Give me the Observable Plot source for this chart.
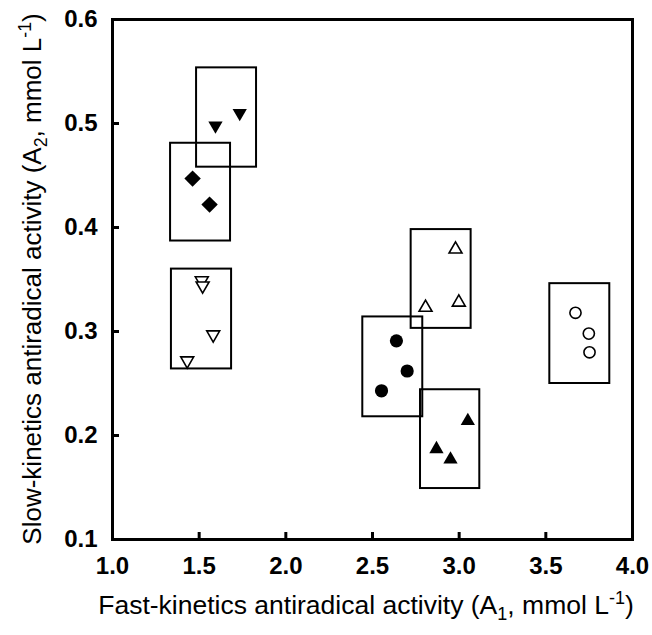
<!DOCTYPE html>
<html><head><meta charset="utf-8">
<script src="https://cdn.jsdelivr.net/npm/d3@7"></script>
<script src="https://cdn.jsdelivr.net/npm/@observablehq/plot@0.6"></script>
<style>
body{margin:0;background:#fff}
svg{font-family:"Liberation Sans",Arial,sans-serif}
</style>
</head><body><div id="chart"></div>
<script>
// ---- data ----
const xTicks = [1.0, 1.5, 2.0, 2.5, 3.0, 3.5, 4.0];
const yTicks = [0.1, 0.2, 0.3, 0.4, 0.5, 0.6];
const groups = ["filledDown", "filledDiamond", "openDown", "openUp", "filledCircle", "filledUp", "openCircle"];
const pointX = [
  [1.594, 1.734],
  [1.462, 1.560],
  [1.515, 1.520, 1.581, 1.431],
  [2.806, 2.979, 2.998],
  [2.552, 2.638, 2.700],
  [2.869, 2.950, 3.050],
  [3.671, 3.748, 3.752]
];
const pointY = [
  [0.498, 0.510],
  [0.447, 0.422],
  [0.349, 0.344, 0.297, 0.272],
  [0.323, 0.379, 0.328],
  [0.243, 0.291, 0.262],
  [0.187, 0.177, 0.214],
  [0.318, 0.298, 0.280]
];
const boxX1 = [1.485, 1.335, 1.340, 2.723, 2.444, 2.777, 3.523];
const boxX2 = [1.831, 1.681, 1.687, 3.069, 2.790, 3.119, 3.869];
const boxY1 = [0.458, 0.387, 0.264, 0.303, 0.218, 0.149, 0.250];
const boxY2 = [0.5535, 0.481, 0.360, 0.398, 0.314, 0.244, 0.346];

// ---- styles ----
const triangleDown = {
  draw(context, size) {
    const y = -Math.sqrt(size / (Math.sqrt(3) * 3));
    context.moveTo(0, -y * 2);
    context.lineTo(-Math.sqrt(3) * y, y);
    context.lineTo(Math.sqrt(3) * y, y);
    context.closePath();
  }
};
const styles = {
  filledDown:   {symbol: triangleDown, r: 5.3, fill: "black", stroke: "none"},
  filledDiamond:{symbol: "diamond2",  r: 7.4, fill: "black", stroke: "none"},
  openDown:     {symbol: triangleDown, r: 4.8, fill: "white", stroke: "black", strokeWidth: 1.6},
  openUp:       {symbol: "triangle",  r: 4.8, fill: "white", stroke: "black", strokeWidth: 1.6},
  filledCircle: {symbol: "circle",    r: 6.6, fill: "black", stroke: "none"},
  filledUp:     {symbol: "triangle",  r: 5.3, fill: "black", stroke: "none"},
  openCircle:   {symbol: "circle",    r: 5.6, fill: "white", stroke: "black", strokeWidth: 1.6}
};

const points = groups.flatMap((g, i) => pointX[i].map((x, j) => ({group: g, x, y: pointY[i][j]})));
const boxes = groups.map((g, i) => ({group: g, x1: boxX1[i], x2: boxX2[i], y1: boxY1[i], y2: boxY2[i]}));

const fmt = d3.format(".1f");
const chart = Plot.plot({
  width: 652,
  height: 635,
  marginLeft: 112,
  marginRight: 20,
  marginTop: 19,
  marginBottom: 96,
  style: {fontFamily: '"Liberation Sans", Arial, sans-serif', background: "white", color: "black"},
  x: {domain: [1, 4]},
  y: {domain: [0.1, 0.6]},
  marks: [
    Plot.rect(boxes, {x1: "x1", x2: "x2", y1: "y1", y2: "y2", fill: "none", stroke: "black", strokeWidth: 2}),
    ...groups.map(g => Plot.dot(points.filter(d => d.group === g), {x: "x", y: "y", ...styles[g]})),
    Plot.axisX({ticks: xTicks, tickFormat: fmt, tickSize: -7, tickPadding: 24, strokeWidth: 3, fontSize: 24, fontWeight: "bold", label: null}),
    Plot.axisY({ticks: yTicks, tickFormat: fmt, tickSize: -7, tickPadding: 22, strokeWidth: 3, fontSize: 24, fontWeight: "bold", label: null}),
    Plot.frame({stroke: "black", strokeWidth: 3})
  ]
});
document.getElementById("chart").appendChild(chart);

// ---- axis titles with sub/superscripts ----
const svg = d3.select(chart);
const xs = chart.scale("x"), ys = chart.scale("y");
function richText(sel, parts, size) {
  let shift = 0;
  for (const [t, kind] of parts) {
    const target = kind === "sub" ? 6 : kind === "sup" ? -10 : 0;
    sel.append("tspan")
      .attr("dy", target - shift)
      .attr("font-size", kind ? size * 0.68 : size)
      .text(t);
    shift = target;
  }
}
const xt = svg.append("text")
  .attr("x", (xs.apply(1) + xs.apply(4)) / 2 - 6)
  .attr("y", 614)
  .attr("text-anchor", "middle")
  .attr("font-size", 26.5)
  .attr("fill", "black");
richText(xt, [["Fast-kinetics antiradical activity (A"], ["1", "sub"], [", mmol L"], ["-1", "sup"], [")"]], 26.5);

const yt = svg.append("text")
  .attr("transform", `translate(41,${(ys.apply(0.1) + ys.apply(0.6)) / 2}) rotate(-90)`)
  .attr("text-anchor", "middle")
  .attr("font-size", 26)
  .attr("fill", "black");
richText(yt, [["Slow-kinetics antiradical activity (A"], ["2", "sub"], [", mmol L"], ["-1", "sup"], [")"]], 26);
</script>
</body></html>
